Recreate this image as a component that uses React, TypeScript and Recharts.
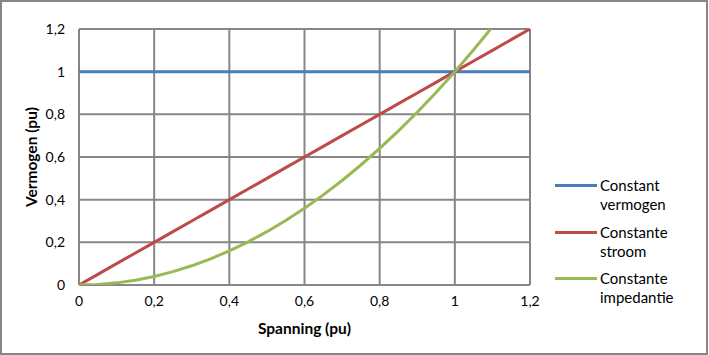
import { LineChart, Line, XAxis, YAxis, CartesianGrid } from 'recharts'

const spanning = [0, 0.05, 0.1, 0.15, 0.2, 0.25, 0.3, 0.35, 0.4, 0.45, 0.5, 0.55, 0.6, 0.65, 0.7, 0.75, 0.8, 0.85, 0.9, 0.95, 1, 1.05, 1.1, 1.15, 1.2]
const constantVermogen = [1, 1, 1, 1, 1, 1, 1, 1, 1, 1, 1, 1, 1, 1, 1, 1, 1, 1, 1, 1, 1, 1, 1, 1, 1]
const constanteStroom = [0, 0.05, 0.1, 0.15, 0.2, 0.25, 0.3, 0.35, 0.4, 0.45, 0.5, 0.55, 0.6, 0.65, 0.7, 0.75, 0.8, 0.85, 0.9, 0.95, 1, 1.05, 1.1, 1.15, 1.2]
const constanteImpedantie = [0, 0.0025, 0.01, 0.0225, 0.04, 0.0625, 0.09, 0.1225, 0.16, 0.2025, 0.25, 0.3025, 0.36, 0.4225, 0.49, 0.5625, 0.64, 0.7225, 0.81, 0.9025, 1, 1.1025, 1.21, null, null]
const ticks = [0, 0.2, 0.4, 0.6, 0.8, 1, 1.2]

const series = [
  { key: 'vermogen', lines: ['Constant', 'vermogen'], color: '#4A7EBB' },
  { key: 'stroom', lines: ['Constante', 'stroom'], color: '#BE4B48' },
  { key: 'impedantie', lines: ['Constante', 'impedantie'], color: '#98B954' },
]

const data = spanning.map((x, i) => ({
  x,
  vermogen: constantVermogen[i],
  stroom: constanteStroom[i],
  impedantie: constanteImpedantie[i],
}))

const font = 'Lato, "Open Sans", sans-serif'
const fmt = (v: number) => String(v).replace('.', ',')
const titleStyle = { fontWeight: 'bold', fontSize: 15.5, fontFamily: font, fill: '#000' }

// legend drawn as plain html next to the plot, like the excel original
const LegendBox = () => (
  <div style={{ position: 'absolute', left: 555, top: 176, width: 150, fontFamily: font, fontSize: 15, color: '#000' }}>
    {series.map(s => (
      <div key={s.key} style={{ display: 'flex', alignItems: 'flex-start', height: 46.5 }}>
        <div style={{ width: 42, height: 3, background: s.color, marginTop: 8, marginRight: 3 }} />
        <div style={{ lineHeight: '19px' }}>
          {s.lines.map(l => <div key={l}>{l}</div>)}
        </div>
      </div>
    ))}
  </div>
)

export default function App() {
  return (
    <div style={{ position: 'absolute', left: 0, top: 0, width: 709, height: 355, background: '#fff' }}>
      <LineChart width={709} height={355} data={data} margin={{ top: 29, right: 179, bottom: 20, left: 19 }}>
        <CartesianGrid stroke="#868686" strokeWidth={2} />
        <XAxis
          dataKey="x"
          type="number"
          domain={[0, 1.2]}
          ticks={ticks}
          interval={0}
          tickFormatter={fmt}
          axisLine={false}
          tickLine={false}
          tickSize={0}
          tickMargin={11}
          height={50}
          tick={{ fill: '#000', fontSize: 14, fontFamily: font }}
          label={{ value: 'Spanning (pu)', position: 'insideBottom', offset: 1, style: titleStyle }}
        />
        <YAxis
          type="number"
          domain={[0, 1.2]}
          allowDataOverflow
          ticks={ticks}
          interval={0}
          tickFormatter={fmt}
          axisLine={false}
          tickLine={false}
          tickSize={0}
          tickMargin={14}
          width={60}
          tick={{ fill: '#000', fontSize: 14, fontFamily: font }}
          label={{ value: 'Vermogen (pu)', angle: -90, position: 'insideLeft', offset: 12, style: { ...titleStyle, textAnchor: 'middle' } }}
        />
        {series.map(s => (
          <Line
            key={s.key}
            dataKey={s.key}
            stroke={s.color}
            strokeWidth={3}
            dot={false}
            activeDot={false}
            type="linear"
            isAnimationActive={false}
          />
        ))}
      </LineChart>
      <LegendBox />
      <div style={{ position: 'absolute', left: 0, top: 0, width: 708, height: 355, boxSizing: 'border-box', border: '2px solid #868686', pointerEvents: 'none' }} />
    </div>
  )
}
